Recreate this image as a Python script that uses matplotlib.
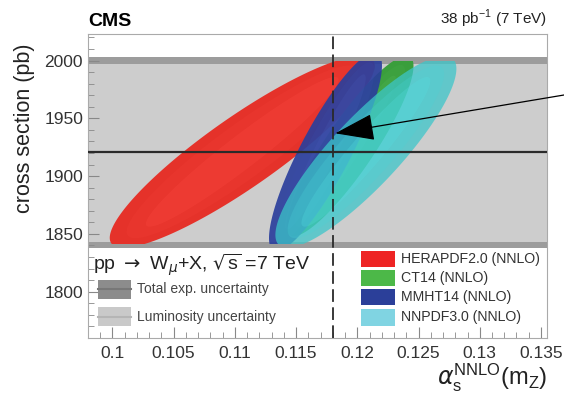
import matplotlib
matplotlib.use('Agg')
import matplotlib.pyplot as plt
from matplotlib.patches import Polygon, Rectangle
from matplotlib.ticker import MultipleLocator
import numpy as np

plt.rcParams['font.family'] = ['Liberation Sans', 'DejaVu Sans']

# PDF sets and their (alpha_s, cross section) contours
pdf_names = ['HERAPDF2.0 (NNLO)', 'CT14 (NNLO)', 'MMHT14 (NNLO)', 'NNPDF3.0 (NNLO)']
pdf_colors = ['#e5322a', '#3a9e3c', '#2b3f9c', '#3cc6c9']
legend_colors = ['#ee2424', '#4cb848', '#2b3f99', '#80d4e2']
pdf_alpha = [1.0, 1.0, 0.92, 0.74]
alphas_center = [0.1106, 0.1194, 0.1174, 0.1207]
xsec_center = [1921, 1926, 1921, 1921]
xsec_half = [83, 78, 86, 83]
alphas_tilt = [0.0097, 0.0046, 0.0040, 0.0064]
alphas_half = [0.0048, 0.0024, 0.0023, 0.0037]

# measurement
xsec_meas = 1921
exp_band = (1838, 2003)
lumi_band = (1843, 1997)
contour_clip = (1841, 2000)
alphas_world = 0.118

fig = plt.figure(figsize=(5.64, 3.99), dpi=100)
ax = fig.add_axes([0.156, 0.153, 0.814, 0.762])
ax.set_xlim(0.098, 0.1355)
ax.set_ylim(1760, 2023)

ax.axhspan(exp_band[0], exp_band[1], color='#9c9c9c', lw=0, zorder=1)
ax.axhspan(lumi_band[0], lumi_band[1], color='#cdcdcd', lw=0, zorder=1)

clip = Rectangle((0.09, contour_clip[0]), 0.06, contour_clip[1] - contour_clip[0],
                 transform=ax.transData, fc='none', ec='none')
ax.add_patch(clip)

t = np.linspace(0, 2 * np.pi, 400)
for i in range(len(pdf_names)):
    # shaded look: nested ellipses, lighter towards the middle
    base = np.array(matplotlib.colors.to_rgb(pdf_colors[i]))
    for k, sc in enumerate([1.0, 0.75, 0.45]):
        xs = alphas_center[i] + alphas_half[i] * sc * np.cos(t) + alphas_tilt[i] * np.sin(t) * (0.6 + 0.4 * sc)
        ys = xsec_center[i] + xsec_half[i] * np.sin(t) * (0.6 + 0.4 * sc)
        c = base if k == 0 else np.clip(base + 0.05 * k, 0, 1)
        a = pdf_alpha[i] if k == 0 else 0.25
        p = Polygon(np.column_stack([xs, ys]), closed=True, fc=c, ec='none',
                    alpha=a, zorder=2 + i)
        ax.add_patch(p)
        p.set_clip_path(clip)

ax.axhline(xsec_meas, color='#2a2a2a', lw=1.6, zorder=8)
ax.axvline(alphas_world, color='#2a2a2a', lw=1.3, ls=(0, (7, 3)), zorder=8)

# arrow from outside the frame
ax.annotate('', xy=(0.1182, 1937), xycoords='data',
            xytext=(1.0, 1 - 95 / 399), textcoords='figure fraction',
            arrowprops=dict(arrowstyle='-|>,head_length=2.5,head_width=0.85',
                            color='black', lw=0.9, shrinkA=0, shrinkB=0),
            annotation_clip=False, zorder=10)

ax.set_xticks(np.arange(0.1, 0.1351, 0.005))
ax.set_xticklabels(['0.1', '0.105', '0.11', '0.115', '0.12', '0.125', '0.13', '0.135'])
ax.xaxis.set_minor_locator(MultipleLocator(0.001))
ax.yaxis.set_major_locator(MultipleLocator(50))
ax.yaxis.set_minor_locator(MultipleLocator(10))
ax.tick_params(which='both', direction='in', color='#888888', labelsize=12.5, labelcolor='#333333')
ax.tick_params(which='major', length=8)
ax.tick_params(which='minor', length=4)
ax.tick_params(axis='x', pad=6)
for s in ax.spines.values():
    s.set_color('#aaaaaa')

fig.text(25 / 564, 1 - 128 / 399, 'cross section (pb)', rotation=90, fontsize=15.5,
         ha='center', va='center', color='#222222')
fig.text(0.970, 0.012, r'$\alpha_{\mathregular{s}}^{\mathregular{NNLO}}$(m$_{\mathregular{Z}}$)',
         ha='right', va='bottom', fontsize=17, color='#222222')
fig.text(0.156, 0.925, 'CMS', fontweight='bold', fontsize=14, ha='left', va='bottom')
fig.text(0.970, 0.925, r'38 pb$^{\mathregular{-1}}$ (7 TeV)', fontsize=11, ha='right',
         va='bottom', color='#222222')

ax.text(0.0984, 1823, r'pp $\rightarrow$ W$_\mu$+X, $\sqrt{\mathregular{s}}$ =7 TeV',
        fontsize=14, ha='left', va='center', color='#222222', zorder=9)

# left legend: measurement bands
band_labels = ['Total exp. uncertainty', 'Luminosity uncertainty']
band_colors = ['#8c8c8c', '#c9c9c9']
band_line = ['#777777', '#b5b5b5']
band_rows = [1802, 1778.5]
for j in range(2):
    yc = band_rows[j]
    ax.add_patch(Rectangle((0.0988, yc - 8), 0.0027, 16, fc=band_colors[j], ec='none', zorder=9))
    ax.plot([0.0988, 0.1015], [yc, yc], color=band_line[j], lw=1.5, zorder=9)
    ax.text(0.1020, yc, band_labels[j], fontsize=10, va='center', ha='left',
            color='#444444', zorder=9)

# right legend: PDF sets
pdf_rows = [1828, 1811.8, 1795.3, 1777.7]
for i in range(len(pdf_names)):
    yc = pdf_rows[i]
    ax.add_patch(Rectangle((0.1203, yc - 7), 0.0028, 14, fc=legend_colors[i], ec='none', zorder=9))
    ax.text(0.1236, yc, pdf_names[i], fontsize=10.2, va='center', ha='left',
            color='#333333', zorder=9)

fig.savefig('out.png', dpi=100)
